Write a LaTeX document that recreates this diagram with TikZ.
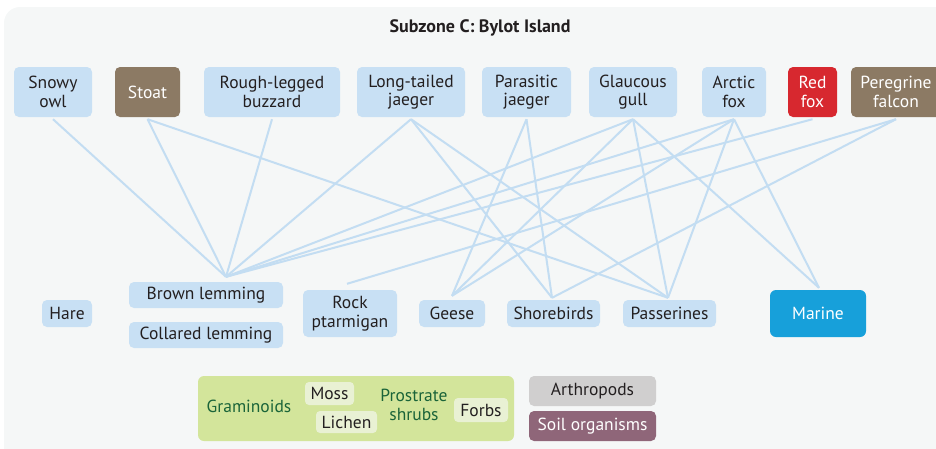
\documentclass[tikz,border=0pt]{standalone}
\usepackage{fontspec}
\setmainfont{PT Sans}
\usepackage{xcolor}

\definecolor{bgpaper}{HTML}{F5F7F7}
\definecolor{skybox}{HTML}{C8E0F4}
\definecolor{skyline}{HTML}{C3DDF2}
\definecolor{stoatbrown}{HTML}{8C7A64}
\definecolor{foxred}{HTML}{D7282F}
\definecolor{marineblue}{HTML}{17A0DA}
\definecolor{plantgreen}{HTML}{D3E59B}
\definecolor{plantpale}{HTML}{E9F1D4}
\definecolor{plantink}{HTML}{1A6439}
\definecolor{arthgrey}{HTML}{D0CFCF}
\definecolor{soilmauve}{HTML}{8F6679}
\definecolor{ink}{HTML}{231F20}

\begin{document}
\begin{tikzpicture}[x=1pt,y=-1pt,
  box/.style={rounded corners=5pt, fill=skybox, text=ink, align=center, inner sep=0pt, font=\fontsize{17.5}{18.5}\selectfont},
  dark/.style={box, text=white},
  chip/.style={box, fill=plantpale, rounded corners=4pt},
  plant/.style={text=plantink, align=center, inner sep=0pt, font=\fontsize{17.5}{18.5}\selectfont},
  web/.style={draw=skyline, line width=2pt}]

  \clip (0,0) rectangle (936,448);
  % 背景
  \fill[bgpaper, rounded corners=16pt] (4,7) rectangle (960,470);
  \node[text=ink, font=\bfseries\fontsize{18}{19}\selectfont] (title) at (480,28) {Subzone C: Bylot Island};

  % 捕食者
  \node[box, minimum width=78pt, minimum height=50pt] (owl) at (53,92) {Snowy\\owl};
  \node[dark, fill=stoatbrown, minimum width=65pt, minimum height=50pt] (stoat) at (147.5,92) {Stoat};
  \node[box, minimum width=136pt, minimum height=50pt] (buzzard) at (272,92) {Rough-legged\\buzzard};
  \node[box, minimum width=108pt, minimum height=50pt] (ltjaeger) at (411,92) {Long-tailed\\jaeger};
  \node[box, minimum width=89pt, minimum height=50pt] (pjaeger) at (526.5,92) {Parasitic\\jaeger};
  \node[box, minimum width=88pt, minimum height=50pt] (gull) at (633,92) {Glaucous\\gull};
  \node[box, minimum width=64pt, minimum height=50pt] (afox) at (734,92) {Arctic\\fox};
  \node[dark, fill=foxred, minimum width=49pt, minimum height=50pt] (rfox) at (812.5,92) {Red\\fox};
  \node[dark, fill=stoatbrown, minimum width=90pt, minimum height=50pt] (falcon) at (896,92) {Peregrine\\falcon};

  % 被食者
  \node[box, minimum width=50pt, minimum height=27pt] (hare) at (67,313.5) {Hare};
  \node[box, minimum width=154pt, minimum height=26pt] (blem) at (206,295) {Brown lemming};
  \node[box, minimum width=154pt, minimum height=26pt] (clem) at (206,335) {Collared lemming};
  \node[box, minimum width=94pt, minimum height=47pt] (ptarm) at (350,313.5) {Rock\\ptarmigan};
  \node[box, minimum width=66pt, minimum height=27pt] (geese) at (452,313.5) {Geese};
  \node[box, minimum width=93pt, minimum height=27pt] (shore) at (553.5,313.5) {Shorebirds};
  \node[box, minimum width=93pt, minimum height=27pt] (passer) at (669.5,313.5) {Passerines};
  \node[dark, fill=marineblue, rounded corners=6pt, minimum width=96pt, minimum height=47pt] (marine) at (818,313.5) {Marine};

  % 植物など
  \node[fill=plantgreen, rounded corners=6pt, minimum width=316pt, minimum height=65pt] (veg) at (356,408.5) {};
  \node[plant] (gram) at (249,406) {Graminoids};
  \node[chip, minimum width=49pt, minimum height=23pt] (moss) at (329.5,393.5) {Moss};
  \node[chip, minimum width=61pt, minimum height=22pt] (lichen) at (346.5,422) {Lichen};
  \node[plant] (shrub) at (414,405) {Prostrate\\shrubs};
  \node[chip, minimum width=54pt, minimum height=24pt] (forbs) at (481,410) {Forbs};
  \node[box, fill=arthgrey, minimum width=127pt, minimum height=30pt] (arth) at (592.5,391) {Arthropods};
  \node[dark, fill=soilmauve, minimum width=127pt, minimum height=30pt] (soil) at (592.5,426) {Soil organisms};

  % 食物網の線
  \coordinate (blem-in) at ([xshift=20pt,yshift=5pt]blem.north);
  \coordinate (ptarm-in) at ([xshift=-3pt,yshift=6pt]ptarm.north);
  \coordinate (geese-in) at ([yshift=4pt]geese.north);
  \coordinate (shore-in) at ([xshift=-1.5pt,yshift=2pt]shore.north);
  \coordinate (passer-in) at ([xshift=-1.5pt,yshift=2pt]passer.north);
  \coordinate (marine-in) at ([xshift=1pt,yshift=2pt]marine.north);
  \foreach \a/\b in {owl/blem, stoat/blem, stoat/passer, buzzard/blem,
      ltjaeger/blem, ltjaeger/shore, ltjaeger/passer, pjaeger/geese, pjaeger/shore,
      gull/blem, gull/geese, gull/passer, gull/marine,
      afox/blem, afox/geese, afox/passer, afox/marine,
      rfox/blem, falcon/ptarm, falcon/shore}
    \draw[web] ([yshift=-2pt]\a.south) -- (\b-in);
\end{tikzpicture}
\end{document}
